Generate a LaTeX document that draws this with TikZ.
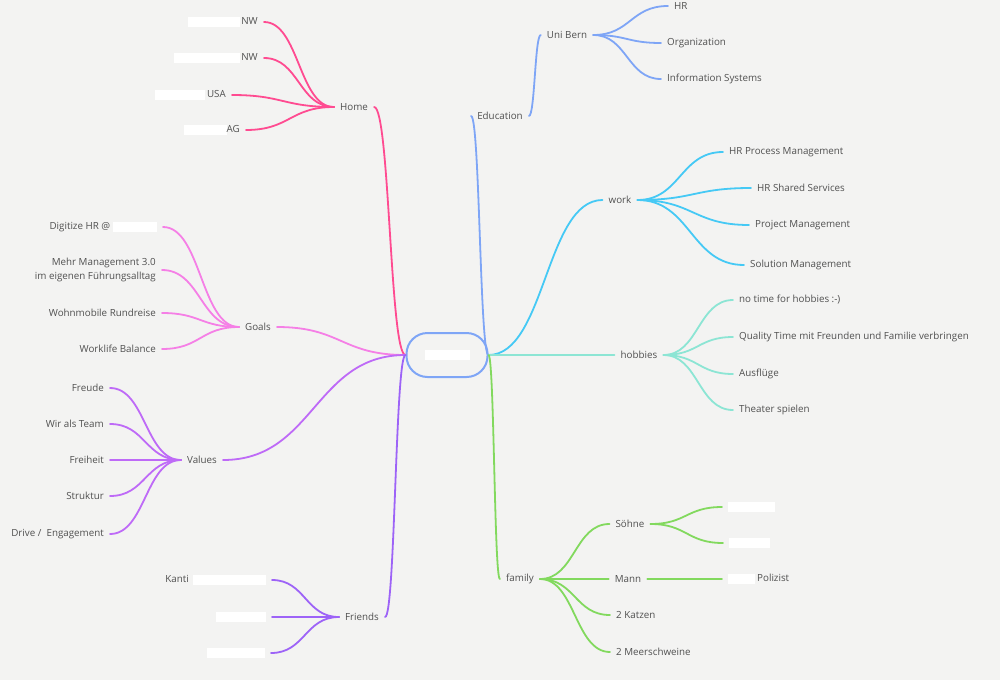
\documentclass[tikz,border=0pt]{standalone}
\usepackage{fontspec}
\setmainfont{Open Sans}
\usepackage{xcolor}
\usepackage{tikz}
\usetikzlibrary{positioning, calc}

\definecolor{bgpaper}{HTML}{F3F3F2}
\definecolor{inkgray}{HTML}{505050}
\definecolor{homepink}{HTML}{FF4B91}
\definecolor{goalpink}{HTML}{F57FE6}
\definecolor{valuepurple}{HTML}{BE6AF7}
\definecolor{friendviolet}{HTML}{9D63F7}
\definecolor{edublue}{HTML}{7EA5F6}
\definecolor{workcyan}{HTML}{45C9F5}
\definecolor{hobbymint}{HTML}{8CE5D4}
\definecolor{familygreen}{HTML}{82D95E}

\newcommand{\wipe}[1]{\textcolor{white}{\rule[-2.5pt]{#1}{10pt}}}

\begin{document}
\begin{tikzpicture}[x=1pt, y=-1pt]
        \tikzstyle{topic} = [font=\fontsize{9.8}{14}\selectfont, text=inkgray, inner xsep=6pt, inner ysep=2pt]
        \tikzstyle{leafL} = [topic, anchor=east, align=right]
        \tikzstyle{leafR} = [topic, anchor=west, align=left]
        \tikzstyle{link} = [line width=1.8pt, line cap=round,
            to path={let \p1=(\tikztostart), \p2=(\tikztotarget) in
              .. controls ({(\x1+\x2)/2},\y1) and ({(\x1+\x2)/2},\y2) .. (\tikztotarget)}]

        \fill [bgpaper] (0,0) rectangle (1000,680);

        % centre
        \node [draw=edublue, line width=2pt, rounded corners=21pt, minimum width=81pt, minimum height=44pt, fill=bgpaper] (hub) at (447,355) {\wipe{45pt}};

        % left side
        \node [topic] (home) at (354,107) {Home};
        \node [leafL] (homeA) at (264,22) {\wipe{52pt}\hspace{1pt}NW};
        \node [leafL] (homeB) at (264,58) {\wipe{66pt}\hspace{1pt}NW};
        \node [leafL] (homeC) at (232,95) {\wipe{50pt}\hspace{2pt}USA};
        \node [leafL] (homeD) at (246,130) {\wipe{43pt}AG};

        \node [topic] (goals) at (258,327) {Goals};
        \node [leafL] (goalA) at (163,227) {Digitize HR @ \wipe{44pt}};
        \node [leafL] (goalB) at (162,270) {Mehr Management 3.0\\im eigenen Führungsalltag};
        \node [leafL] (goalC) at (162,313) {Wohnmobile Rundreise};
        \node [leafL] (goalD) at (162,349) {Worklife Balance};

        \node [topic] (values) at (202,460) {Values};
        \node [leafL] (valA) at (110,388) {Freude};
        \node [leafL] (valB) at (110,424) {Wir als Team};
        \node [leafL] (valC) at (110,460) {Freiheit};
        \node [leafL] (valD) at (110,496) {Struktur};
        \node [leafL] (valE) at (110,534) {Drive /\ \ Engagement};

        \node [topic] (friends) at (362,617) {Friends};
        \node [leafL] (friA) at (272,580) {Kanti\hspace{4pt}\wipe{73pt}};
        \node [leafL] (friB) at (272,617) {\wipe{50pt}};
        \node [leafL] (friC) at (271,653) {\wipe{58pt}};

        % right side
        \node [topic] (edu) at (500,116) {Education};
        \node [topic] (unibern) at (567,35) {Uni Bern};
        \node [leafR] (eduA) at (668,6) {HR};
        \node [leafR] (eduB) at (661,43) {Organization};
        \node [leafR] (eduC) at (661,79) {Information Systems};

        \node [topic] (work) at (620,200) {work};
        \node [leafR] (workA) at (723,152) {HR Process Management};
        \node [leafR] (workB) at (751,188) {HR Shared Services};
        \node [leafR] (workC) at (749,225) {Project Management};
        \node [leafR] (workD) at (744,265) {Solution Management};

        \node [topic] (hobbies) at (639,355) {hobbies};
        \node [leafR] (hobA) at (733,300) {no time for hobbies :-)};
        \node [leafR] (hobB) at (733,337) {Quality Time mit Freunden und Familie verbringen};
        \node [leafR] (hobC) at (733,374) {Ausflüge};
        \node [leafR] (hobD) at (733,410) {Theater spielen};

        \node [topic] (family) at (520,579) {family};
        \node [topic] (sons) at (630,524) {Söhne};
        \node [leafR] (sonA) at (722,507) {\wipe{47pt}};
        \node [leafR] (sonB) at (723,543) {\wipe{41pt}};
        \node [topic] (mann) at (628,579) {Mann};
        \node [leafR] (mannA) at (722,579) {\wipe{27pt}\hspace{2pt}Polizist};
        \node [leafR] (cats) at (610,615) {2 Katzen};
        \node [leafR] (pigs) at (610,652) {2 Meerschweine};

        % branches from the centre
        \draw [link, homepink] (hub.west) to (home.east);
        \draw [link, goalpink] (hub.west) to (goals.east);
        \draw [link, valuepurple] (hub.west) to (values.east);
        \draw [link, friendviolet] (hub.west) to (friends.east);
        \draw [link, edublue] (hub.east) to (edu.west);
        \draw [link, workcyan] (hub.east) to (work.west);
        \draw [link, hobbymint] (hub.east) to (hobbies.west);
        \draw [link, familygreen] (hub.east) to (family.west);

        % twigs
        \draw [link, homepink] (home.west) to (homeA.east);
        \draw [link, homepink] (home.west) to (homeB.east);
        \draw [link, homepink] (home.west) to (homeC.east);
        \draw [link, homepink] (home.west) to (homeD.east);
        \draw [link, goalpink] (goals.west) to (goalA.east);
        \draw [link, goalpink] (goals.west) to (goalB.east);
        \draw [link, goalpink] (goals.west) to (goalC.east);
        \draw [link, goalpink] (goals.west) to (goalD.east);
        \draw [link, valuepurple] (values.west) to (valA.east);
        \draw [link, valuepurple] (values.west) to (valB.east);
        \draw [link, valuepurple] (values.west) to (valC.east);
        \draw [link, valuepurple] (values.west) to (valD.east);
        \draw [link, valuepurple] (values.west) to (valE.east);
        \draw [link, friendviolet] (friends.west) to (friA.east);
        \draw [link, friendviolet] (friends.west) to (friB.east);
        \draw [link, friendviolet] (friends.west) to (friC.east);

        \draw [link, edublue] (edu.east) to (unibern.west);
        \draw [link, edublue] (unibern.east) to (eduA.west);
        \draw [link, edublue] (unibern.east) to (eduB.west);
        \draw [link, edublue] (unibern.east) to (eduC.west);
        \draw [link, workcyan] (work.east) to (workA.west);
        \draw [link, workcyan] (work.east) to (workB.west);
        \draw [link, workcyan] (work.east) to (workC.west);
        \draw [link, workcyan] (work.east) to (workD.west);
        \draw [link, hobbymint] (hobbies.east) to (hobA.west);
        \draw [link, hobbymint] (hobbies.east) to (hobB.west);
        \draw [link, hobbymint] (hobbies.east) to (hobC.west);
        \draw [link, hobbymint] (hobbies.east) to (hobD.west);
        \draw [link, familygreen] (family.east) to (sons.west);
        \draw [link, familygreen] (family.east) to (mann.west);
        \draw [link, familygreen] (family.east) to (cats.west);
        \draw [link, familygreen] (family.east) to (pigs.west);
        \draw [link, familygreen] (sons.east) to (sonA.west);
        \draw [link, familygreen] (sons.east) to (sonB.west);
        \draw [link, familygreen] (mann.east) to (mannA.west);
    \end{tikzpicture}
\end{document}
